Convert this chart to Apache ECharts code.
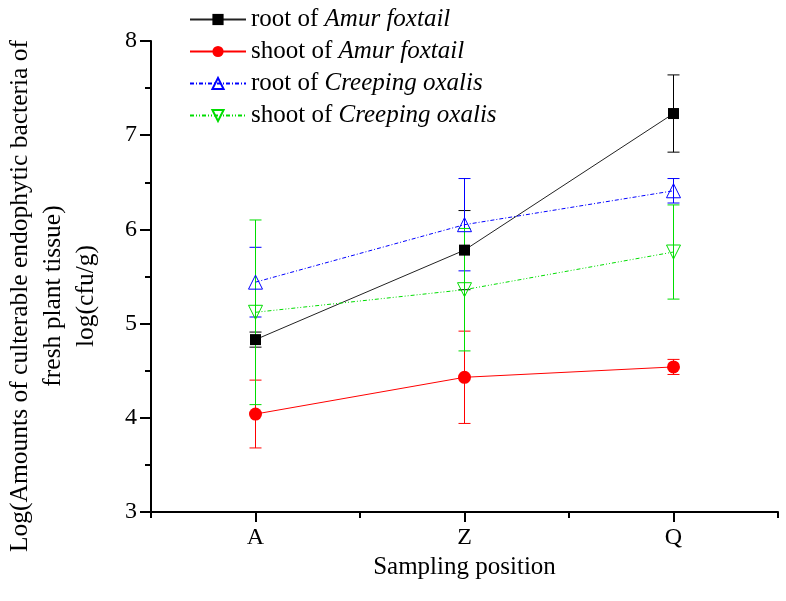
<!DOCTYPE html>
<html><head><meta charset="utf-8">
<script src="https://cdn.jsdelivr.net/npm/echarts@6/dist/echarts.min.js"></script>
<style>html,body{margin:0;padding:0;background:#fff}#c{width:786px;height:601px}</style>
</head><body><div id="c"></div>
<script>
const categories = ['A', 'Z', 'Q'];
const xPositions = [1, 2, 3];
const yTicks = [3, 4, 5, 6, 7, 8];
const rootAmur = [4.83, 5.78, 7.23];
const rootAmurErr = [0.08, 0.42, 0.41];
const shootAmur = [4.04, 4.43, 4.54];
const shootAmurErr = [0.36, 0.49, 0.08];
const rootOxalis = [5.44, 6.05, 6.41];
const rootOxalisErr = [0.37, 0.49, 0.13];
const shootOxalis = [5.12, 5.36, 5.76];
const shootOxalisErr = [0.98, 0.65, 0.50];
const seriesNames = ['root of Amur foxtail', 'shoot of Amur foxtail', 'root of Creeping oxalis', 'shoot of Creeping oxalis'];
const legendRich = {
  'root of Amur foxtail': '{a|root of }{i|Amur foxtail}',
  'shoot of Amur foxtail': '{a|shoot of }{i|Amur foxtail}',
  'root of Creeping oxalis': '{a|root of }{i|Creeping oxalis}',
  'shoot of Creeping oxalis': '{a|shoot of }{i|Creeping oxalis}'
};
const yTitle = 'Log(Amounts of culterable endophytic bacteria of\nfresh plant tissue)\nlog(cfu/g)';
const xTitle = 'Sampling position';

const FONT = '"Liberation Serif", "Times New Roman", serif';
const chart = echarts.init(document.getElementById('c'));

function pts(vals) { return vals.map((v, i) => [xPositions[i], v]); }
function errData(vals, errs) { return vals.map((v, i) => [xPositions[i], v - errs[i], v + errs[i]]); }
function errSeries(name, vals, errs, color) {
  return {
    type: 'custom', name: name + ' err', data: errData(vals, errs), z: 1,
    renderItem: function (params, api) {
      const x = api.value(0);
      const lo = api.coord([x, api.value(1)]);
      const hi = api.coord([x, api.value(2)]);
      const w = 6;
      const st = { stroke: color, lineWidth: 1 };
      return { type: 'group', children: [
        { type: 'line', shape: { x1: lo[0], y1: lo[1], x2: hi[0], y2: hi[1] }, style: st },
        { type: 'line', shape: { x1: lo[0] - w, y1: lo[1], x2: lo[0] + w, y2: lo[1] }, style: st },
        { type: 'line', shape: { x1: hi[0] - w, y1: hi[1], x2: hi[0] + w, y2: hi[1] }, style: st }
      ]};
    }
  };
}
const colors = ['#000000', '#ff0000', '#0000ff', '#00dd00'];

const option = {
  animation: false,
  grid: { left: 151, right: 8, top: 41, bottom: 89 },
  legend: {
    data: seriesNames, orient: 'vertical', left: 184, top: 2, itemWidth: 56, itemHeight: 14, itemGap: 7,
    formatter: n => legendRich[n],
    textStyle: { rich: {
      a: { fontFamily: FONT, fontSize: 25, color: '#000' },
      i: { fontFamily: FONT, fontSize: 25, fontStyle: 'italic', color: '#000' }
    } }
  },
  xAxis: [{
    type: 'value', min: 0.5, max: 3.5, interval: 0.5,
    splitLine: { show: false },
    axisLine: { lineStyle: { color: '#000', width: 2 } },
    axisTick: { customValues: xPositions, length: 10, lineStyle: { color: '#000', width: 2 } },
    axisLabel: { customValues: xPositions, formatter: v => categories[xPositions.indexOf(v)] || '', margin: 14,
      fontFamily: FONT, fontSize: 24, color: '#000' },
    name: xTitle, nameLocation: 'middle', nameGap: 43,
    nameTextStyle: { fontFamily: FONT, fontSize: 25, color: '#000' }
  }, {
    type: 'value', min: 0.5, max: 3.5, interval: 0.5, position: 'bottom', offset: 0,
    splitLine: { show: false },
    axisLine: { show: false },
    axisTick: { customValues: [0.5, 1.5, 2.5, 3.5], length: 6, lineStyle: { color: '#000', width: 2 } },
    axisLabel: { show: false }
  }],
  yAxis: {
    type: 'value', min: yTicks[0], max: yTicks[yTicks.length - 1], interval: 1,
    splitLine: { show: false },
    axisLine: { show: true, lineStyle: { color: '#000', width: 2 } },
    axisTick: { show: true, length: 11, lineStyle: { color: '#000', width: 2 } },
    minorTick: { show: true, splitNumber: 2, length: 6, lineStyle: { color: '#000', width: 2 } },
    axisLabel: { margin: 14, fontFamily: FONT, fontSize: 24, color: '#000' }
  },
  graphic: [{
    type: 'text', x: 53, y: 296, rotation: Math.PI / 2,
    style: { text: yTitle, fontFamily: FONT, fontSize: 25.5, lineHeight: 33, fill: '#000',
      align: 'center', verticalAlign: 'middle' }
  }],
  series: [
    errSeries(seriesNames[0], rootAmur, rootAmurErr, colors[0]),
    errSeries(seriesNames[1], shootAmur, shootAmurErr, colors[1]),
    errSeries(seriesNames[2], rootOxalis, rootOxalisErr, colors[2]),
    errSeries(seriesNames[3], shootOxalis, shootOxalisErr, colors[3]),
    { type: 'line', name: seriesNames[0], data: pts(rootAmur), z: 3, symbol: 'rect', symbolSize: 11,
      itemStyle: { color: '#000' }, lineStyle: { color: '#222', width: 1 } },
    { type: 'line', name: seriesNames[1], data: pts(shootAmur), z: 3, symbol: 'circle', symbolSize: 13,
      itemStyle: { color: '#ff0000' }, lineStyle: { color: '#ff0000', width: 1 } },
    { type: 'line', name: seriesNames[2], data: pts(rootOxalis), z: 3, symbol: 'triangle', symbolSize: 14,
      itemStyle: { color: 'rgba(0,0,0,0)', borderColor: '#0000ff', borderWidth: 1 },
      lineStyle: { color: '#0000ff', width: 1, type: [4, 2, 1, 2] } },
    { type: 'line', name: seriesNames[3], data: pts(shootOxalis), z: 3, symbol: 'triangle', symbolRotate: 180, symbolSize: 14,
      itemStyle: { color: 'rgba(0,0,0,0)', borderColor: '#00dd00', borderWidth: 1 },
      lineStyle: { color: '#00dd00', width: 1, type: [4, 2, 1, 2, 1, 2] } }
  ]
};
chart.setOption(option);
</script></body></html>
